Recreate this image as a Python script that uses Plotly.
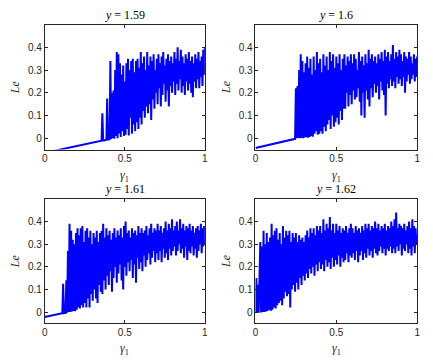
import numpy as np
import plotly.graph_objects as go

# ── Data: largest Lyapunov exponent Le versus gamma_1 for four values of y ───────
TITLES = ["1.59", "1.6", "1.61", "1.62"]
STEP = 0.005

# periodic branch (straight segment before the chaotic onset)
P1_LIN_X = [0.0, 0.355]
P1_LIN_Y = [-0.065, -0.011]
P2_LIN_X = [0.0, 0.245]
P2_LIN_Y = [-0.043, -0.003]
P3_LIN_X = [0.0, 0.105]
P3_LIN_Y = [-0.022, -0.006]
P4_LIN_X = []
P4_LIN_Y = []

# chaotic branch, sampled every STEP starting at G0
P1_G0 = 0.36
P1_LE = [
    0.11, -0.01, -0.01, -0.008, -0.008, -0.007, 0.175, -0.006, -0.006, -0.005,
    0.34, -0.004, 0.2, 0.0, 0.21, -0.003, 0.3, 0.01, 0.38, 0.0,
    0.37, 0.02, 0.33, 0.005, 0.28, 0.03, 0.32, 0.01, 0.25, 0.015,
    0.33, 0.04, 0.35, 0.012, 0.3, 0.09, 0.34, 0.02, 0.35, 0.06,
    0.29, 0.03, 0.34, 0.07, 0.35, 0.04, 0.31, 0.09, 0.38, 0.06,
    0.33, 0.12, 0.36, 0.09, 0.3, 0.14, 0.38, 0.11, 0.32, 0.15,
    0.36, 0.08, 0.34, 0.17, 0.37, 0.13, 0.3, 0.2, 0.35, 0.15,
    0.37, 0.22, 0.33, 0.14, 0.36, 0.19, 0.38, 0.24, 0.32, 0.16,
    0.35, 0.21, 0.37, 0.14, 0.34, 0.23, 0.36, 0.2, 0.33, 0.25,
    0.38, 0.19, 0.35, 0.24, 0.40, 0.21, 0.34, 0.26, 0.39, 0.2,
    0.36, 0.23, 0.33, 0.19, 0.37, 0.25, 0.35, 0.21, 0.38, 0.24,
    0.34, 0.2, 0.36, 0.18, 0.33, 0.25, 0.37, 0.22, 0.35, 0.26,
    0.38, 0.22, 0.34, 0.27, 0.36, 0.23, 0.39, 0.28, 0.40,
]

P2_G0 = 0.25
P2_LE = [
    0.22, 0.0, 0.23, 0.001, 0.3, 0.0, 0.37, 0.002, 0.34, 0.0,
    0.29, 0.003, 0.33, 0.004, 0.36, 0.002, 0.31, 0.005, 0.35, 0.01,
    0.28, 0.006, 0.36, 0.02, 0.3, 0.03, 0.38, 0.015, 0.33, 0.02,
    0.35, 0.03, 0.29, 0.02, 0.37, 0.05, 0.32, 0.03, 0.36, 0.06,
    0.3, 0.08, 0.38, 0.04, 0.34, 0.1, 0.37, 0.05, 0.31, 0.07,
    0.36, 0.09, 0.33, 0.06, 0.37, 0.12, 0.3, 0.08, 0.35, 0.13,
    0.37, 0.13, 0.32, 0.2, 0.36, 0.14, 0.34, 0.19, 0.37, 0.15,
    0.33, 0.21, 0.37, 0.17, 0.35, 0.18, 0.3, 0.22, 0.38, 0.16,
    0.34, 0.1, 0.36, 0.2, 0.32, 0.09, 0.37, 0.21, 0.33, 0.17,
    0.39, 0.14, 0.35, 0.22, 0.37, 0.18, 0.34, 0.24, 0.36, 0.2,
    0.33, 0.23, 0.37, 0.17, 0.35, 0.25, 0.38, 0.21, 0.34, 0.19,
    0.39, 0.1, 0.36, 0.24, 0.38, 0.22, 0.34, 0.26, 0.37, 0.23,
    0.41, 0.25, 0.35, 0.22, 0.38, 0.27, 0.36, 0.24, 0.39, 0.26,
    0.37, 0.23, 0.34, 0.27, 0.38, 0.2, 0.36, 0.25, 0.35, 0.28,
    0.38, 0.24, 0.36, 0.26, 0.33, 0.28, 0.37, 0.25, 0.35, 0.27, 0.36,
]

P3_G0 = 0.11
P3_LE = [
    -0.005, 0.125, -0.005, -0.004, -0.004, 0.14, -0.003, 0.27, 0.0, 0.39,
    0.0, 0.36, 0.002, 0.32, 0.005, 0.3, 0.003, 0.35, 0.01, 0.37,
    0.02, 0.34, 0.015, 0.37, 0.03, 0.38, 0.02, 0.31, 0.04, 0.36,
    0.02, 0.37, 0.06, 0.33, 0.02, 0.36, 0.08, 0.3, 0.05, 0.35,
    0.1, 0.33, 0.06, 0.36, 0.04, 0.31, 0.12, 0.35, 0.09, 0.36,
    0.08, 0.39, 0.14, 0.33, 0.1, 0.37, 0.16, 0.34, 0.12, 0.36,
    0.18, 0.32, 0.09, 0.35, 0.15, 0.37, 0.2, 0.33, 0.13, 0.36,
    0.17, 0.34, 0.21, 0.37, 0.14, 0.33, 0.1, 0.38, 0.2, 0.40,
    0.16, 0.35, 0.22, 0.36, 0.18, 0.33, 0.23, 0.37, 0.15, 0.35,
    0.21, 0.36, 0.13, 0.34, 0.24, 0.38, 0.19, 0.35, 0.22, 0.37,
    0.18, 0.35, 0.25, 0.36, 0.2, 0.38, 0.23, 0.34, 0.26, 0.37,
    0.21, 0.39, 0.24, 0.35, 0.27, 0.37, 0.22, 0.36, 0.26, 0.39,
    0.23, 0.36, 0.27, 0.38, 0.22, 0.35, 0.28, 0.37, 0.24, 0.4,
    0.26, 0.36, 0.23, 0.39, 0.28, 0.37, 0.25, 0.41, 0.27, 0.36,
    0.29, 0.38, 0.25, 0.4, 0.27, 0.36, 0.3, 0.41, 0.26, 0.37,
    0.28, 0.39, 0.24, 0.36, 0.29, 0.38, 0.23, 0.37, 0.27, 0.39,
    0.26, 0.36, 0.29, 0.38, 0.25, 0.35, 0.28, 0.37, 0.24, 0.38,
    0.27, 0.36, 0.3, 0.39, 0.26, 0.37, 0.29, 0.38, 0.3,
]

P4_G0 = 0.0
P4_LE = [
    -0.005, 0.15, -0.004, 0.12, -0.003, 0.14, 0.31, -0.002, 0.29, 0.0,
    0.36, 0.0, 0.3, 0.002, 0.35, 0.005, 0.31, 0.01, 0.33, 0.005,
    0.39, 0.01, 0.34, 0.02, 0.36, 0.015, 0.37, 0.03, 0.32, 0.04,
    0.35, 0.05, 0.3, 0.03, 0.38, 0.06, 0.33, 0.09, 0.36, 0.07,
    0.34, 0.08, 0.36, 0.02, 0.31, 0.1, 0.35, 0.12, 0.33, 0.09,
    0.35, 0.13, 0.31, 0.1, 0.34, 0.15, 0.32, 0.12, 0.33, 0.16,
    0.31, 0.14, 0.34, 0.17, 0.36, 0.15, 0.33, 0.19, 0.37, 0.17,
    0.35, 0.2, 0.37, 0.16, 0.34, 0.21, 0.38, 0.18, 0.36, 0.22,
    0.38, 0.19, 0.35, 0.21, 0.41, 0.18, 0.36, 0.23, 0.39, 0.2,
    0.37, 0.22, 0.42, 0.19, 0.36, 0.24, 0.39, 0.2, 0.35, 0.23,
    0.39, 0.21, 0.36, 0.25, 0.38, 0.2, 0.35, 0.24, 0.37, 0.22,
    0.36, 0.23, 0.38, 0.26, 0.35, 0.22, 0.37, 0.25, 0.39, 0.24,
    0.37, 0.26, 0.35, 0.23, 0.38, 0.27, 0.36, 0.22, 0.37, 0.25,
    0.35, 0.27, 0.38, 0.23, 0.36, 0.26, 0.39, 0.24, 0.37, 0.28,
    0.39, 0.25, 0.36, 0.27, 0.38, 0.24, 0.37, 0.28, 0.4, 0.26,
    0.37, 0.25, 0.39, 0.27, 0.36, 0.29, 0.38, 0.26, 0.37, 0.28,
    0.39, 0.25, 0.36, 0.28, 0.38, 0.27, 0.37, 0.29, 0.4, 0.26,
    0.38, 0.28, 0.41, 0.26, 0.44, 0.29, 0.37, 0.27, 0.39, 0.3,
    0.38, 0.25, 0.37, 0.28, 0.39, 0.27, 0.36, 0.3, 0.38, 0.26,
    0.4, 0.28, 0.37, 0.25, 0.41, 0.29, 0.38, 0.26, 0.37, 0.3, 0.33,
]

X_TICKS = [0, 0.5, 1]
X_TICKTEXT = ["0", "0.5", "1"]
Y_TICKS = [0, 0.1, 0.2, 0.3, 0.4]
Y_TICKTEXT = ["0", "0.1", "0.2", "0.3", "0.4"]

# ── Style ──────────────────────────────────────────────────────────────────────
W, H = 433, 364
BLUE = "#0000ff"
AX_CLR = "#262626"
SANS = "Liberation Sans, Arial, sans-serif"
SERIF = "Liberation Serif, DejaVu Serif, serif"

# panel boxes in pixels: (left, right, top, bottom)
BOXES = [
    (42.3, 204.7, 24.7, 149.5),
    (256.0, 420.0, 24.7, 149.5),
    (42.3, 204.7, 199.0, 323.3),
    (256.0, 420.0, 199.0, 323.3),
]

panels = [
    (P1_LIN_X, P1_LIN_Y, P1_G0, P1_LE),
    (P2_LIN_X, P2_LIN_Y, P2_G0, P2_LE),
    (P3_LIN_X, P3_LIN_Y, P3_G0, P3_LE),
    (P4_LIN_X, P4_LIN_Y, P4_G0, P4_LE),
]


def _axis(domain, ticks, ticktext, rng, anchor):
    return dict(
        domain=domain,
        range=rng,
        tickvals=ticks,
        ticktext=ticktext,
        ticks="inside",
        ticklen=3,
        tickwidth=0.8,
        tickcolor=AX_CLR,
        showline=True,
        linecolor=AX_CLR,
        linewidth=0.8,
        mirror="ticks",
        showgrid=False,
        zeroline=False,
        tickfont=dict(family=SANS, size=10, color=AX_CLR),
        anchor=anchor,
    )


def _label(text, x, y, angle=0, color=AX_CLR):
    return dict(
        text=text, x=x, y=y, xref="paper", yref="paper",
        xanchor="center", yanchor="middle", textangle=angle,
        showarrow=False, font=dict(family=SERIF, size=12, color=color),
    )


fig = go.Figure()
layout = {}
annotations = []

for i, ((lx, ly, g0, le), (l, r, t, b)) in enumerate(zip(panels, BOXES)):
    n = i + 1
    xs = "" if n == 1 else str(n)
    g = np.round(g0 + STEP * np.arange(len(le)), 4)
    x = list(lx) + list(g)
    y = list(ly) + list(le)
    fig.add_trace(go.Scatter(
        x=x, y=y, mode="lines",
        line=dict(color=BLUE, width=2),
        xaxis="x" + xs, yaxis="y" + xs,
        showlegend=False, hoverinfo="skip",
    ))

    xdom = [l / W, r / W]
    ydom = [1 - b / H, 1 - t / H]
    layout["xaxis" + xs] = _axis(xdom, X_TICKS, X_TICKTEXT, [0, 1], "y" + xs)
    layout["yaxis" + xs] = _axis(ydom, Y_TICKS, Y_TICKTEXT, [-0.05, 0.5], "x" + xs)

    cx = (l + r) / 2 / W
    annotations.append(_label(f"<i>y</i> = {TITLES[i]}", cx, 1 - (t - 10) / H, color="#000"))
    annotations.append(_label("<i>γ</i><sub>1</sub>", cx, 1 - (b + 26) / H))
    annotations.append(_label("<i>Le</i>", (l - 30) / W, 1 - (t + b) / 2 / H, angle=-90))

fig.update_layout(
    width=W, height=H,
    margin=dict(l=0, r=0, t=0, b=0),
    paper_bgcolor="white",
    plot_bgcolor="white",
    font=dict(family=SERIF),
    annotations=annotations,
    **layout,
)

fig.write_html(
    "out.html",
    config={"displayModeBar": False},
    post_script="document.body.style.margin='0';",
)
